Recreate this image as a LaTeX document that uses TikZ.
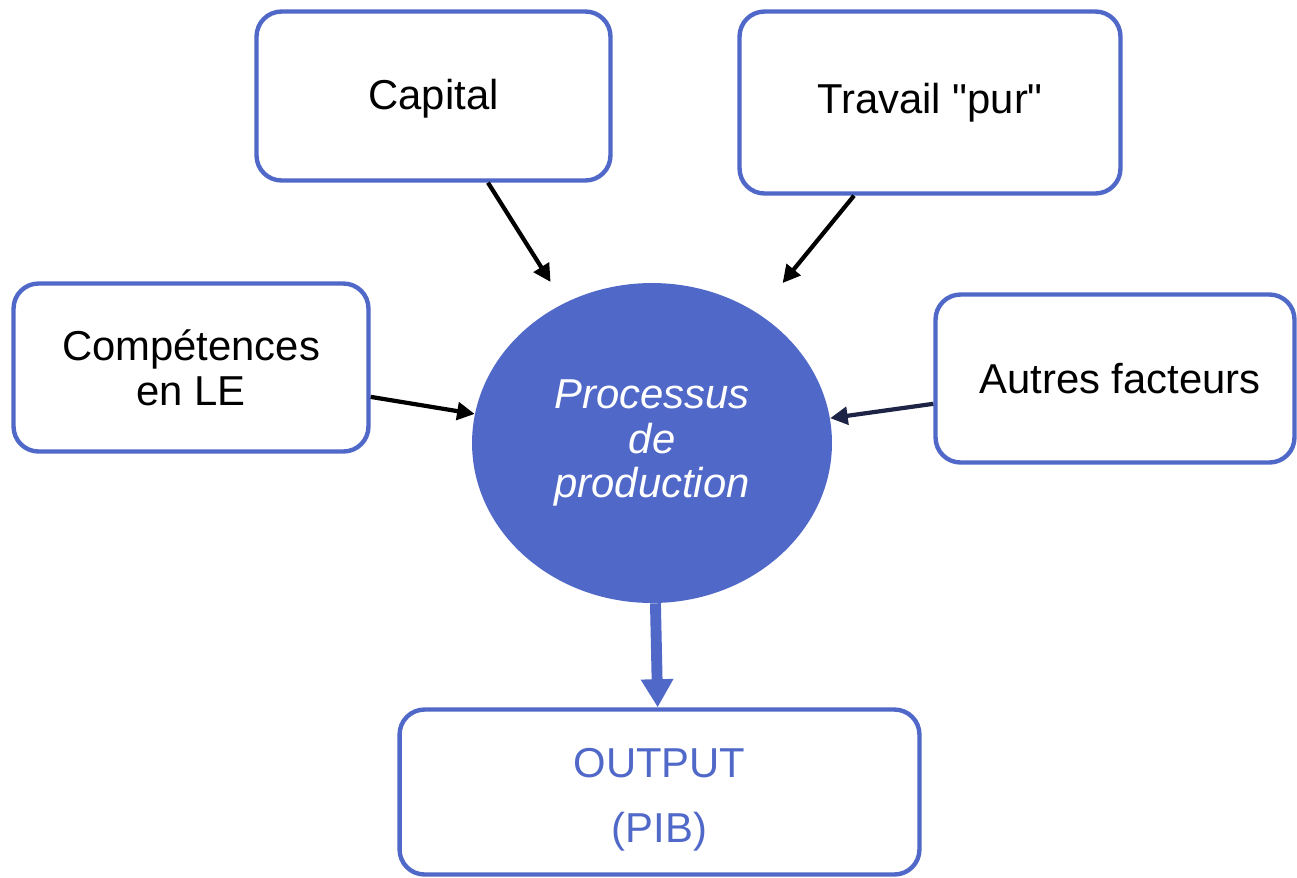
\documentclass[tikz,border=0pt]{standalone}
\usepackage{fontspec}
\setmainfont{Liberation Sans}[Ligatures=TeXOff]
\usepackage{tikz}
\usetikzlibrary{shapes}
\usetikzlibrary{arrows.meta}
\definecolor{procblue}{RGB}{80,104,200}
\definecolor{navyarrow}{RGB}{30,36,70}
\tikzset{>={Triangle[length=10pt,width=10pt]}}
\tikzset{
  factor/.style={draw=procblue, line width=2.5pt, rounded corners=0.5cm,
    inner sep=0pt, align=center, font=\fontsize{23.8}{25.5}\selectfont},
  feed/.style={->, line width=2.4pt, black},
}

\begin{document}
\begin{tikzpicture}[x=0.02cm, y=-0.02cm]
      \useasboundingbox (0,0) rectangle (1297,877);
      \node (proc) at (652,443) [ellipse, fill=procblue, minimum width=7.2cm,
        minimum height=6.4cm, inner sep=0pt, text=white, align=center,
        font=\fontsize{23.8}{25.5}\selectfont\itshape] {Processus\\de\\production};
      \node (cap) at (433.5,96) [factor, minimum width=7.08cm, minimum height=3.38cm] {\rule{0pt}{0.7cm}Capital};
      \node (trav) at (930,102.5) [factor, minimum width=7.62cm, minimum height=3.64cm] {Travail "pur"};
      \node (comp) at (191,367.5) [factor, minimum width=7.1cm, minimum height=3.36cm] {Compétences\\en LE};
      \node (autres) at (1115,378.5) [factor, minimum width=7.18cm, minimum height=3.36cm] {\hspace{0.2cm}Autres facteurs};
      \node (out) at (659.5,792) [factor, minimum width=10.4cm, minimum height=3.3cm,
        text=procblue, font=\fontsize{23.8}{36.9}\selectfont] {\rule{0pt}{0.89cm}OUTPUT\\(PIB)};
	  \draw[feed, shorten >=0.5cm] (cap) -- (proc);
	  \draw[feed, shorten >=0.78cm] (trav) -- (proc);
	  \draw[feed] (comp) -- (proc);
	  \draw[feed, navyarrow] (autres) -- (proc);
	  \draw[-{Triangle[length=16pt,width=17.5pt]}, line width=6.2pt, procblue] (proc) -- (out);
    \end{tikzpicture}
\end{document}
